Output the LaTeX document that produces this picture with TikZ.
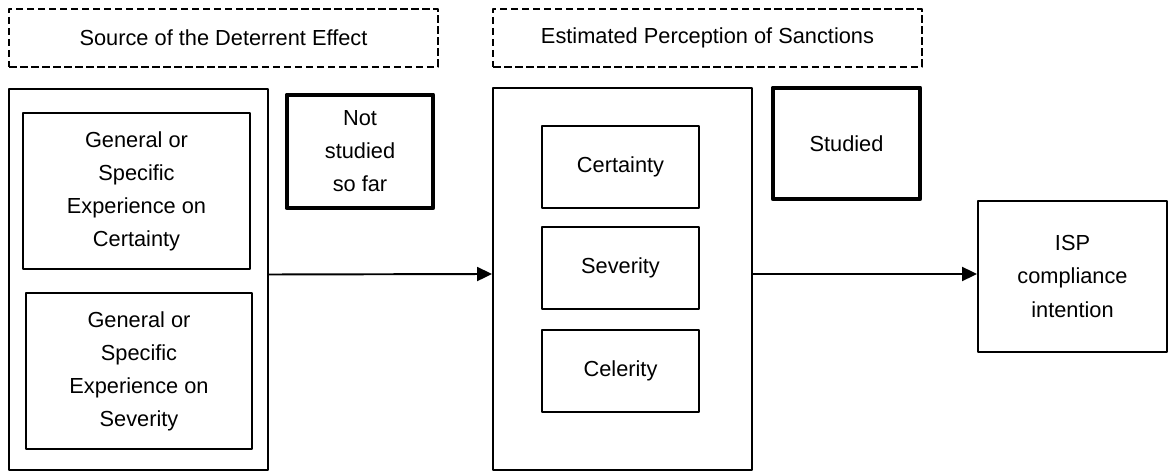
\documentclass[tikz,border=0pt]{standalone}
\usepackage{fontspec}
\setmainfont{Liberation Sans}
\usetikzlibrary{arrows.meta}
\begin{document}
\begin{tikzpicture}[x=0.02cm,y=-0.02cm,>={Triangle[length=0.3cm,width=0.28cm]},line join=round,
	font=\fontsize{12.4}{18.8}\selectfont,
	box/.style={draw,line width=1.1pt,inner sep=0pt,align=center},
	thickbox/.style={box,line width=2.8pt},
	headbox/.style={box,line width=1.3pt,dash pattern=on 0.15cm off 0.07cm,minimum width=8.58cm,minimum height=1.16cm},
	smallbox/.style={box,minimum width=3.14cm,minimum height=1.64cm},
	arr/.style={->,line width=1.1pt}]
	\useasboundingbox (0,0) rectangle (1169,475);
	% tieu de
	\node[headbox] (srchead) at (223.5,38) {Source of the Deterrent Effect};
	\node[headbox] (perchead) at (707.5,38) {Estimated Perception of Sanctions};
	% khoi ben trai
	\node[box,minimum width=5.18cm,minimum height=7.62cm] (srcbox) at (138.5,279.5) {};
	\node[box,minimum width=4.54cm,minimum height=3.12cm] (expcert) at (136.5,191) {General or\\ Specific\\ Experience on\\ Certainty};
	\node[box,minimum width=4.52cm,minimum height=3.12cm] (expsev) at (139,371) {General or\\ Specific\\ Experience on\\ Severity};
	\node[thickbox,minimum width=2.92cm,minimum height=2.26cm] (notstudied) at (360,151.5) {Not\\ studied\\ so far};
	% khoi o giua
	\node[box,minimum width=5.18cm,minimum height=7.64cm] (percbox) at (622.5,279) {};
	\node[smallbox] (cert) at (620.5,167) {Certainty};
	\node[smallbox] (sev) at (620.5,268) {Severity};
	\node[smallbox] (cel) at (620.5,371) {Celerity};
	\node[thickbox,minimum width=2.94cm,minimum height=2.22cm] (studied) at (846.5,143.5) {Studied};
	% khoi ben phai
	\node[box,minimum width=3.78cm,minimum height=3.02cm] (isp) at (1072.5,276.5) {ISP\\ compliance\\ intention};
	% mui ten
	\draw[arr] ([yshift=0.1cm]srcbox.east) -- ([yshift=0.1cm]percbox.west);
	\draw[arr] ([yshift=0.1cm]percbox.east) -- ([yshift=0.1cm]percbox.east -| isp.west);
\end{tikzpicture}
\end{document}
